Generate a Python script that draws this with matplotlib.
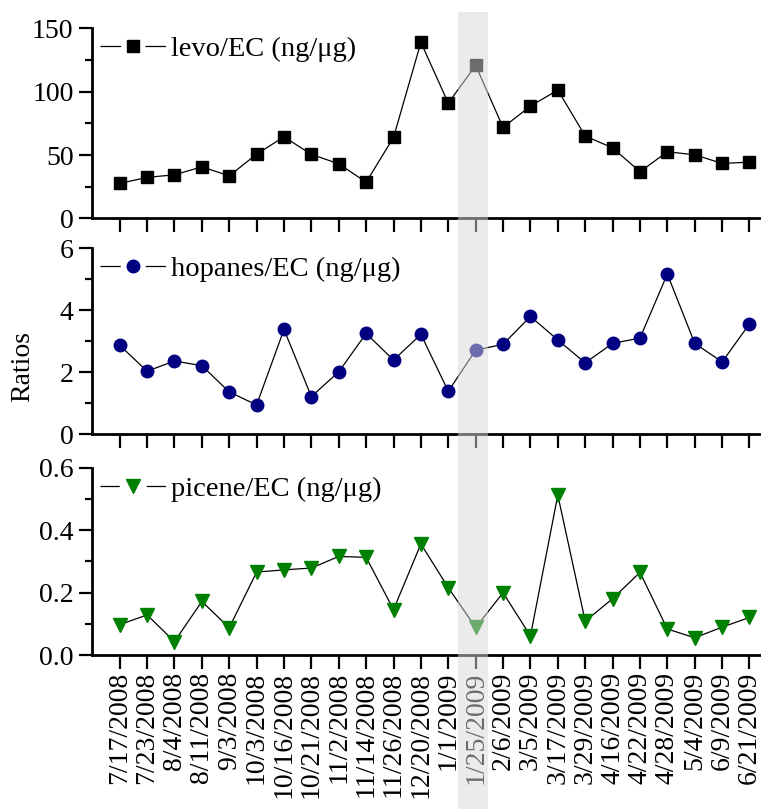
import numpy as np
import matplotlib
matplotlib.use("Agg")
import matplotlib.pyplot as plt
from matplotlib.ticker import MultipleLocator, FormatStrFormatter
from matplotlib.patches import Rectangle
from matplotlib.lines import Line2D
import matplotlib.transforms as mtransforms

plt.rcParams['font.family'] = ['Liberation Serif', 'DejaVu Serif']
plt.rcParams['font.size'] = 20

dates = ['7/17/2008', '7/23/2008', '8/4/2008', '8/11/2008', '9/3/2008', '10/3/2008',
         '10/16/2008', '10/21/2008', '11/2/2008', '11/14/2008', '11/26/2008', '12/20/2008',
         '1/1/2009', '1/25/2009', '2/6/2009', '3/5/2009', '3/17/2009', '3/29/2009',
         '4/16/2009', '4/22/2009', '4/28/2009', '5/4/2009', '6/9/2009', '6/21/2009']

levo = [27.6, 32.4, 34.4, 40.7, 33.6, 50.7, 64.4, 50.5, 43.1, 28.6, 63.9, 138.9,
        91.0, 120.8, 71.8, 88.6, 101.3, 65.0, 55.7, 36.8, 52.6, 50.2, 43.4, 44.4]
hopanes = [2.87, 2.03, 2.36, 2.21, 1.36, 0.94, 3.38, 1.21, 2.01, 3.25, 2.39, 3.22,
           1.38, 2.71, 2.90, 3.80, 3.04, 2.30, 2.93, 3.10, 5.17, 2.93, 2.33, 3.56]
picene = [0.098, 0.129, 0.044, 0.172, 0.088, 0.266, 0.273, 0.279, 0.316, 0.313, 0.146, 0.356,
          0.216, 0.089, 0.200, 0.062, 0.512, 0.109, 0.181, 0.265, 0.084, 0.056, 0.090, 0.121]

x = np.arange(len(dates))

fig = plt.figure(figsize=(7.61, 8.09), dpi=100)
ax1 = fig.add_axes([0.1213, 0.730, 0.8787, 0.235])
ax2 = fig.add_axes([0.1213, 0.4635, 0.8787, 0.2295], sharex=ax1)
ax3 = fig.add_axes([0.1213, 0.190, 0.8787, 0.232], sharex=ax1)

panels = [
    (ax1, levo, 's', 'black', 8.5, 'levo/EC (ng/\u03bcg)', 150, 50, 25, '%d'),
    (ax2, hopanes, 'o', '#000080', 9, 'hopanes/EC (ng/\u03bcg)', 6, 2, 1, '%d'),
    (ax3, picene, 'v', 'green', 10.5, 'picene/EC (ng/\u03bcg)', 0.6, 0.2, 0.1, '%.1f'),
]

lw = 0.9
hl = 2.3  # legend handle length in em
for ax, vals, mk, col, ms, lab, ymax, maj, mnr, fmt in panels:
    ax.plot(x, vals, '-', color='black', lw=lw, marker=mk, ms=ms, mfc=col, mec=col)
    ax.set_ylim(0, ymax)
    ax.yaxis.set_major_locator(MultipleLocator(maj))
    ax.yaxis.set_minor_locator(MultipleLocator(mnr))
    ax.yaxis.set_major_formatter(FormatStrFormatter(fmt))
    for s in ['top', 'right']:
        ax.spines[s].set_visible(False)
    for s in ['left', 'bottom']:
        ax.spines[s].set_linewidth(2)
    ax.tick_params(axis='y', which='major', direction='out', length=9.5, width=1.6, pad=4)
    ax.tick_params(axis='y', which='minor', direction='out', length=5, width=1.6)
    ax.tick_params(axis='x', which='major', direction='out', length=10, width=1.6, pad=2)

    # legend handle: line - marker - line, with gaps around the marker
    total = hl * 20.5
    gap = ms + 9
    seg = (total - gap) / 2
    handle = Line2D([], [], color='black', lw=lw, marker=mk, ms=ms, mfc=col, mec=col,
                    ls=(0, (seg / lw, gap / lw, seg / lw, 200)))
    ax.legend([handle], [lab], loc='upper left', frameon=False, borderaxespad=0,
              borderpad=0.28, handlelength=hl, handletextpad=0.2, fontsize=20.5)

ax1.set_xlim(-1.0, 23.42)
ax3.set_xticks(x)
ax3.set_xticklabels(dates, rotation=90)
ax1.tick_params(axis='x', labelbottom=False)
ax2.tick_params(axis='x', labelbottom=False)

fig.text(0.030, 1 - 367 / 809, 'Ratios', rotation=90, ha='center', va='center', fontsize=20)

# highlighted sample, spans the whole figure height
trans = mtransforms.blended_transform_factory(ax3.transData, fig.transFigure)
band = Rectangle((12.37, 0), 1.08, 1 - 12 / 809, transform=trans,
                 facecolor='#d8d8d8', alpha=0.5, edgecolor='none', zorder=10)
fig.patches.append(band)

fig.savefig('out.png', dpi=100)
